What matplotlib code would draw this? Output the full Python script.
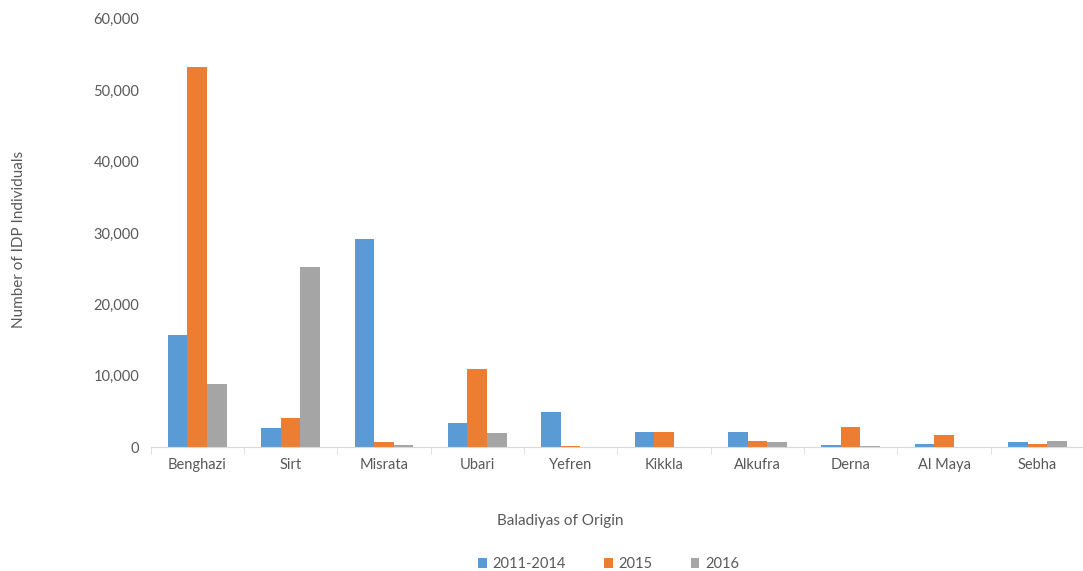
import matplotlib
matplotlib.use("Agg")
import matplotlib.pyplot as plt
import numpy as np
from matplotlib.ticker import FuncFormatter, FixedLocator

categories = ["Benghazi", "Sirt", "Misrata", "Ubari", "Yefren", "Kikkla",
              "Alkufra", "Derna", "Al Maya", "Sebha"]
series_names = ["2011-2014", "2015", "2016"]
v_2011_2014 = [15700, 2700, 29200, 3400, 4900, 2100, 2100, 300, 400, 700]
v_2015 = [53300, 4100, 700, 10900, 100, 2100, 800, 2800, 1700, 400]
v_2016 = [8800, 25200, 300, 2000, 0, 0, 700, 100, 0, 800]
colors = ["#5B9BD5", "#ED7D31", "#A5A5A5"]

plt.rcParams['font.family'] = ['Lato', 'DejaVu Sans']
text_color = "#595959"

fig = plt.figure(figsize=(10.83, 5.71), dpi=100)
ax = fig.add_axes([0.139, 0.217, 0.862, 0.75])

x = np.arange(len(categories))
w = 0.21
for i, (vals, name, c) in enumerate(zip([v_2011_2014, v_2015, v_2016], series_names, colors)):
    ax.bar(x + (i - 1) * w, vals, width=w, color=c, label=name)

ax.set_xlim(-0.5, len(categories) - 0.5)
ax.set_ylim(0, 60000)
ax.set_yticks(np.arange(0, 60001, 10000))
ax.yaxis.set_major_formatter(FuncFormatter(lambda v, p: f"{int(v):,}"))
ax.set_xticks(x)
ax.set_xticklabels(categories)
ax.xaxis.set_minor_locator(FixedLocator(np.arange(-0.5, len(categories), 1.0)))

for s in ["top", "right", "left"]:
    ax.spines[s].set_visible(False)
ax.spines["bottom"].set_color("#D9D9D9")
ax.tick_params(axis="y", length=0, colors=text_color, labelsize=10.5, pad=8)
ax.tick_params(axis="x", which="major", length=0, colors=text_color, labelsize=10.5, pad=8)
ax.tick_params(axis="x", which="minor", length=5, color="#D9D9D9")

fig.text(0.018, 0.58, "Number of IDP Individuals", rotation=90, ha="center", va="center",
         color=text_color, fontsize=11)
fig.text(0.517, 0.088, "Baladiyas of Origin", ha="center", va="center",
         color=text_color, fontsize=11)

handles, labels = ax.get_legend_handles_labels()
leg = fig.legend(handles, labels, loc="center", bbox_to_anchor=(0.562, 0.012), ncol=3,
                 frameon=False, fontsize=10.5, handlelength=0.6, handleheight=0.6,
                 columnspacing=2.6, handletextpad=0.4)
for t in leg.get_texts():
    t.set_color(text_color)

fig.savefig("out.png", dpi=100)
